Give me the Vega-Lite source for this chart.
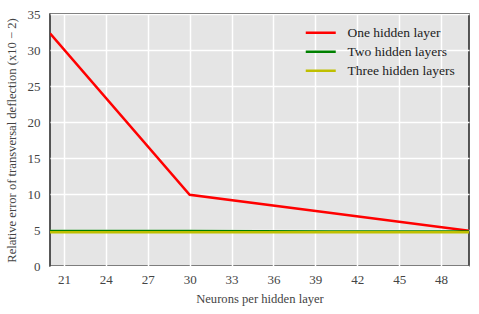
{
  "$schema": "https://vega.github.io/schema/vega-lite/v6.json",
  "width": 419,
  "height": 252,
  "autosize": {"type": "none"},
  "padding": {"left": 50, "top": 14, "right": 10, "bottom": 48},
  "background": "white",
  "config": {
    "view": {"fill": "#e5e5e5", "stroke": "#222222", "strokeWidth": 1.5},
    "font": "Liberation Serif, Times New Roman, DejaVu Serif, serif",
    "axis": {"labelFont": "Liberation Serif, Times New Roman, serif", "titleFont": "Liberation Serif, Times New Roman, serif", "labelColor": "#444444", "titleColor": "#444444", "labelFontSize": 13, "titleFontSize": 12.6, "titleFontWeight": "normal", "gridColor": "white", "gridWidth": 1.5, "domain": false, "ticks": false, "gridOpacity": 1},
    "legend": {"labelFont": "Liberation Serif, Times New Roman, serif"}
  },
  "data": {
    "values": [
      {"n": 20, "err": 32.3, "s": "One hidden layer"},
      {"n": 30, "err": 9.9, "s": "One hidden layer"},
      {"n": 40, "err": 7.4, "s": "One hidden layer"},
      {"n": 50, "err": 4.9, "s": "One hidden layer"},
      {"n": 20, "err": 4.87, "s": "Two hidden layers"},
      {"n": 30, "err": 4.85, "s": "Two hidden layers"},
      {"n": 40, "err": 4.8, "s": "Two hidden layers"},
      {"n": 50, "err": 4.78, "s": "Two hidden layers"},
      {"n": 20, "err": 4.68, "s": "Three hidden layers"},
      {"n": 30, "err": 4.7, "s": "Three hidden layers"},
      {"n": 40, "err": 4.68, "s": "Three hidden layers"},
      {"n": 50, "err": 4.68, "s": "Three hidden layers"}
    ]
  },
  "mark": {"type": "line", "strokeWidth": 2.5, "clip": true},
  "encoding": {
    "x": {"field": "n", "type": "quantitative", "scale": {"domain": [20, 50], "nice": false, "zero": false},
      "axis": {"values": [21, 24, 27, 30, 33, 36, 39, 42, 45, 48], "title": "Neurons per hidden layer", "labelPadding": 7, "titlePadding": 6}},
    "y": {"field": "err", "type": "quantitative", "scale": {"domain": [0, 35], "nice": false},
      "axis": {"values": [0, 5, 10, 15, 20, 25, 30, 35], "title": "Relative error of transversal deflection (x10 − 2)", "labelPadding": 10, "titlePadding": 9}},
    "color": {"field": "s", "type": "nominal",
      "scale": {"domain": ["One hidden layer", "Two hidden layers", "Three hidden layers"], "range": ["#ff0000", "#008000", "#bfbf00"]},
      "legend": {"title": null, "orient": "none", "legendX": 264, "legendY": 12, "symbolType": "M-3,0H3", "symbolSize": 100, "symbolStrokeWidth": 2.5, "labelFontSize": 13.5, "labelColor": "#222222", "rowPadding": 4, "labelOffset": 20}
    }
  }
}
